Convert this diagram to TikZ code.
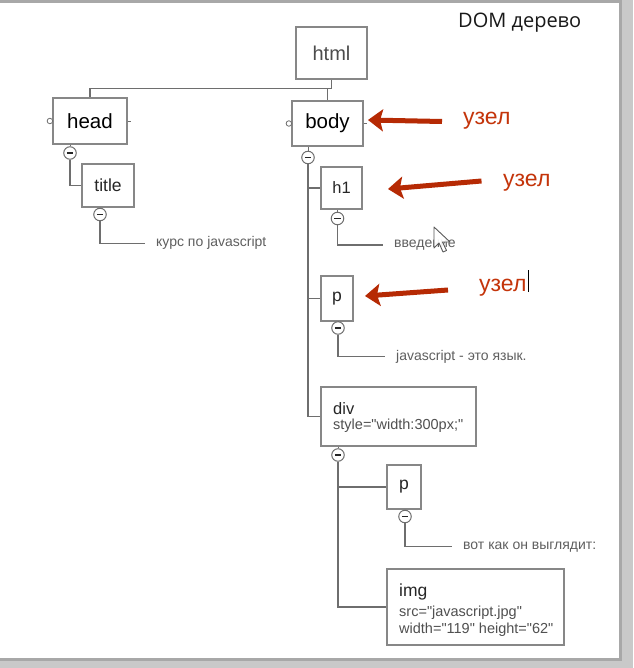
\documentclass[tikz,border=0pt]{standalone}
\usepackage{fontspec}
\setmainfont{Liberation Sans}[Ligatures=TeXOff]
\newfontfamily\titlefont{Open Sans}
\usetikzlibrary{arrows.meta}
\definecolor{bggray}{RGB}{201,201,201}
\definecolor{frameline}{RGB}{168,168,168}
\definecolor{boxline}{RGB}{135,135,135}
\definecolor{conline}{RGB}{110,110,110}
\definecolor{redarrow}{RGB}{182,42,4}
\definecolor{redtext}{RGB}{196,52,10}
\definecolor{leafgray}{RGB}{95,95,95}
\definecolor{attrgray}{RGB}{80,80,80}
\tikzset{
  box/.style={draw=boxline, line width=1.2pt, rectangle, inner sep=0pt, fill=white},
  minus/.style={circle, draw=conline, line width=1pt, minimum size=12.5pt, inner sep=0pt, fill=white,
    path picture={\draw[black!85, line width=1.5pt]
      ([xshift=-3.2pt]path picture bounding box.center) -- ([xshift=3.2pt]path picture bounding box.center);}},
  port/.style={circle, draw=conline, line width=0.8pt, minimum size=5.5pt, inner sep=0pt, fill=white},
  con/.style={draw=conline, line width=1.2pt},
  leaf/.style={anchor=west, inner xsep=11pt, inner ysep=0pt, text=leafgray, font=\fontsize{14}{16}\selectfont},
  attr/.style={anchor=west, inner sep=0pt, text=attrgray, font=\fontsize{14.5}{16}\selectfont},
  tag/.style={anchor=west, inner sep=0pt, text=black!85},
  redarr/.style={draw=redarrow, line width=5pt, -{Stealth[length=15pt,width=22pt,inset=3pt]}},
  uzel/.style={anchor=base west, inner sep=0pt, text=redtext, font=\fontsize{23}{26}\selectfont}
}
\begin{document}
\begin{tikzpicture}[x=1pt,y=-1pt]
\useasboundingbox (0,0) rectangle (633,668);
\fill[bggray] (0,0) rectangle (633,668);
\fill[white] (0,3) rectangle (619,658);
\draw[frameline, line width=2.5pt] (0,1.75) -- (620.25,1.75) -- (620.25,659.25) -- (0,659.25);

% title
\node[anchor=base west, inner sep=0pt, font=\titlefont\fontsize{20}{24}\selectfont, text=black!90] (dom) at (458,27.5) {DOM дерево};

% boxes
\node[box, minimum width=71pt, minimum height=52pt, text=black!70, font=\fontsize{20}{24}\selectfont] (html) at (331.5,53) {html};
\node[box, minimum width=74pt, minimum height=46pt, text=black, font=\fontsize{20.5}{24}\selectfont] (head) at (90,121) {head};
\node[box, minimum width=71pt, minimum height=45pt, text=black, font=\fontsize{20.5}{24}\selectfont] (body) at (327.5,123.5) {body};
\node[box, minimum width=52pt, minimum height=43pt, text=black!85, font=\fontsize{17.5}{20}\selectfont] (title) at (108,185.5) {title};
\node[box, minimum width=41pt, minimum height=42pt, text=black!85, font=\fontsize{16.5}{20}\selectfont] (h1) at (341.5,188) {h1};
\node[box, minimum width=32pt, minimum height=45pt, text=black!85, font=\fontsize{17.5}{20}\selectfont] (p) at (337,298.5) {p};
\node[box, minimum width=155pt, minimum height=59pt] (div) at (398.5,416.5) {};
\node[box, minimum width=34pt, minimum height=44pt, text=black!85, font=\fontsize{17.5}{20}\selectfont] (p2) at (404,487) {p};
\node[box, minimum width=177pt, minimum height=76pt] (img) at (475.5,607) {};

\node[tag, font=\fontsize{16.5}{20}\selectfont] (divt) at (333,409) {div};
\node[attr] (divs) at (333,426) {style="width:300px;"};
\node[tag, font=\fontsize{17.5}{20}\selectfont] (imgt) at (399,591.5) {img};
\node[attr] (imgs) at (399,613) {src="javascript.jpg"};
\node[attr] (imgw) at (399,629.5) {width="119" height="62"};

% ports on head and body
\node[port] (headport) at ([xshift=-2.5pt]head.west) {};
\node[port] (bodyport) at ([xshift=-2.5pt]body.west) {};
\draw[con, line width=0.8pt] (head.east) -- ++(3,0);
\draw[con, line width=0.8pt] (body.east) -- ++(3,0);

% minus circles
\node[minus] (headm) at (70,153) {};
\node[minus] (titlem) at (100,214.5) {};
\node[minus] (bodym) at (308,157.5) {};
\node[minus] (h1m) at (337.5,218.5) {};
\node[minus] (pm) at (338,328) {};
\node[minus] (divm) at (338,455) {};
\node[minus] (p2m) at (405,516.5) {};

\foreach \m/\b in {headm/head, titlem/title, bodym/body, h1m/h1, pm/p, divm/div, p2m/p2}{
  \draw[con, line width=0.9pt] (\m.north) -- (\m.north |- \b.south);
}

% tree connectors
\draw[con] (html.south) -- ++(0,9) coordinate (hj) -| (head.north);
\draw[con] (hj -| body.north) -- (body.north);
\draw[con] (headm.south) |- (title.west);
\draw[con] (bodym.south) |- (h1.west);
\draw[con] (bodym.south) |- (p.west);
\draw[con] (bodym.south) |- (div.west);
\draw[con] (divm.south) |- (p2.west);
\draw[con] (divm.south) |- (img.west);

% leaf texts
\node[leaf] (leaf1) at (145,243.3) {курс по javascript};
\node[leaf] (leaf2) at (383,245) {введение};
\node[leaf] (leaf3) at (385,356.7) {javascript - это язык.};
\node[leaf] (leaf4) at (452,546.7) {вот как он выглядит:};
\draw[con] (titlem.south) |- (leaf1.west);
\draw[con] (h1m.south) |- (leaf2.west);
\draw[con] (pm.south) |- (leaf3.west);
\draw[con] (p2m.south) |- (leaf4.west);

% mouse pointer
\draw[fill=white, fill opacity=0.9, draw=black!65, line width=0.9pt, line join=round]
  (434,227) -- ++(0,21) -- ++(5,-5) -- ++(4,9) -- ++(3.5,-1.5) -- ++(-4,-8.5) -- ++(7.5,0) -- cycle;

% red arrows and labels
\coordinate (a1s) at (442,121.5);
\coordinate (a1e) at (368,120);
\coordinate (a2s) at (481.5,181);
\coordinate (a2e) at (388,189);
\coordinate (a3s) at (448,290);
\coordinate (a3e) at (365,296);
\draw[redarr] (a1s) -- (a1e);
\draw[redarr] (a2s) -- (a2e);
\draw[redarr] (a3s) -- (a3e);
\node[uzel] (u1) at (463,124.5) {узел};
\node[uzel] (u2) at (503,186.5) {узел};
\node[uzel] (u3) at (479,291.5) {узел};
\draw[black, line width=1pt] ([xshift=1.5pt]u3.base east) -- ++(0,-22);
\end{tikzpicture}
\end{document}
